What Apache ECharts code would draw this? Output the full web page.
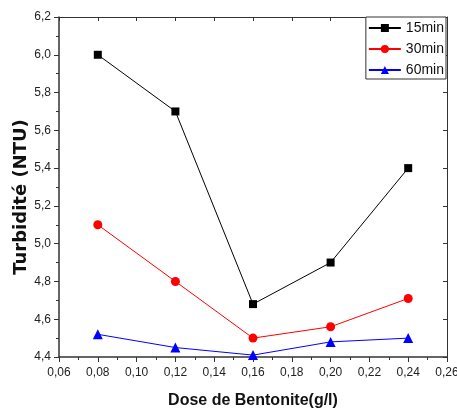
<!DOCTYPE html>
<html><head><meta charset="utf-8">
<script src="https://cdn.jsdelivr.net/npm/echarts@6/dist/echarts.min.js"></script>
<style>html,body{margin:0;padding:0;background:#fff}#c{width:457px;height:412px}</style>
</head><body><div id="c"></div>
<script>
const doses = [0.08, 0.12, 0.16, 0.20, 0.24];
const t15 = [6.00, 5.70, 4.68, 4.90, 5.40];
const t30 = [5.10, 4.80, 4.50, 4.56, 4.71];
const t60 = [4.52, 4.45, 4.41, 4.48, 4.50];
const seriesNames = ['15min', '30min', '60min'];

const pair = (xs, ys) => xs.map((x, i) => [x, ys[i]]);
const fmt = v => v.toFixed(2).replace('.', ',');
const fmtY = v => v.toFixed(1).replace('.', ',');
const font = '"Liberation Sans", Arial, sans-serif';

const chart = echarts.init(document.getElementById('c'), null, {renderer: 'canvas'});
chart.setOption({
  animation: false,
  backgroundColor: '#fff',
  grid: {left: 59, right: 10, top: 17, bottom: 55, show: false, containLabel: false, outerBoundsMode: 'none'},
  legend: {
    orient: 'vertical', right: 11, top: 17,
    data: seriesNames,
    itemWidth: 32, itemHeight: 10, itemGap: 5, itemTextGap: 4,
    padding: [3, 2, 1, 2],
    borderColor: '#333', borderWidth: 1, borderRadius: 0,
    backgroundColor: '#fff',
    textStyle: {fontFamily: font, fontSize: 14, lineHeight: 16, color: '#111'}
  },
  xAxis: [{
    type: 'value', min: 0.06, max: 0.26, interval: 0.02,
    name: 'Dose de Bentonite(g/l)', nameLocation: 'middle', nameGap: 36, nameMoveOverlap: false,
    nameTextStyle: {fontFamily: font, fontSize: 16, fontWeight: 'bold', color: '#111'},
    axisLine: {show: true, onZero: false, lineStyle: {color: '#333', width: 1.5}},
    axisTick: {show: true, inside: false, length: 5, lineStyle: {color: '#333'}},
    minorTick: {show: true, splitNumber: 2, length: 3, lineStyle: {color: '#333'}},
    axisLabel: {formatter: fmt, fontFamily: font, fontSize: 12, color: '#222', margin: 10},
    splitLine: {show: false}
  }, {
    type: 'value', min: 0.06, max: 0.26, interval: 0.02, position: 'top',
    axisLine: {show: true, lineStyle: {color: '#333', width: 1}},
    axisTick: {show: true, inside: true, length: 4, lineStyle: {color: '#333'}},
    axisLabel: {show: false}, splitLine: {show: false}
  }],
  yAxis: [{
    type: 'value', min: 4.4, max: 6.2, interval: 0.2,
    name: 'Turbidité (NTU)', nameLocation: 'middle', nameGap: 29, nameMoveOverlap: false,
    nameTextStyle: {fontFamily: '"DejaVu Sans", sans-serif', fontSize: 18, fontWeight: 'bold', color: '#111', padding: [0, 20, 0, 0]},
    axisLine: {show: true, onZero: false, lineStyle: {color: '#333', width: 1.5}},
    axisTick: {show: true, inside: false, length: 5, lineStyle: {color: '#333'}},
    minorTick: {show: true, splitNumber: 2, length: 3, lineStyle: {color: '#333'}},
    axisLabel: {formatter: fmtY, fontFamily: font, fontSize: 12, color: '#222', margin: 8},
    splitLine: {show: false}
  }, {
    type: 'value', min: 4.4, max: 6.2, interval: 0.2, position: 'right',
    axisLine: {show: true, lineStyle: {color: '#333', width: 1}},
    axisTick: {show: true, inside: true, length: 4, lineStyle: {color: '#333'}},
    axisLabel: {show: false}, splitLine: {show: false}
  }],
  series: [
    {name: seriesNames[0], type: 'line', data: pair(doses, t15), symbol: 'rect', symbolSize: 8,
     color: '#000', lineStyle: {width: 1, color: '#000'}, itemStyle: {color: '#000'}},
    {name: seriesNames[1], type: 'line', data: pair(doses, t30), symbol: 'circle', symbolSize: 9,
     color: '#ff0000', lineStyle: {width: 1, color: '#ff0000'}, itemStyle: {color: '#ff0000'}},
    {name: seriesNames[2], type: 'line', data: pair(doses, t60), symbol: 'triangle', symbolSize: 10,
     color: '#0000ff', lineStyle: {width: 1, color: '#0000ff'}, itemStyle: {color: '#0000ff'}}
  ]
});
</script></body></html>
